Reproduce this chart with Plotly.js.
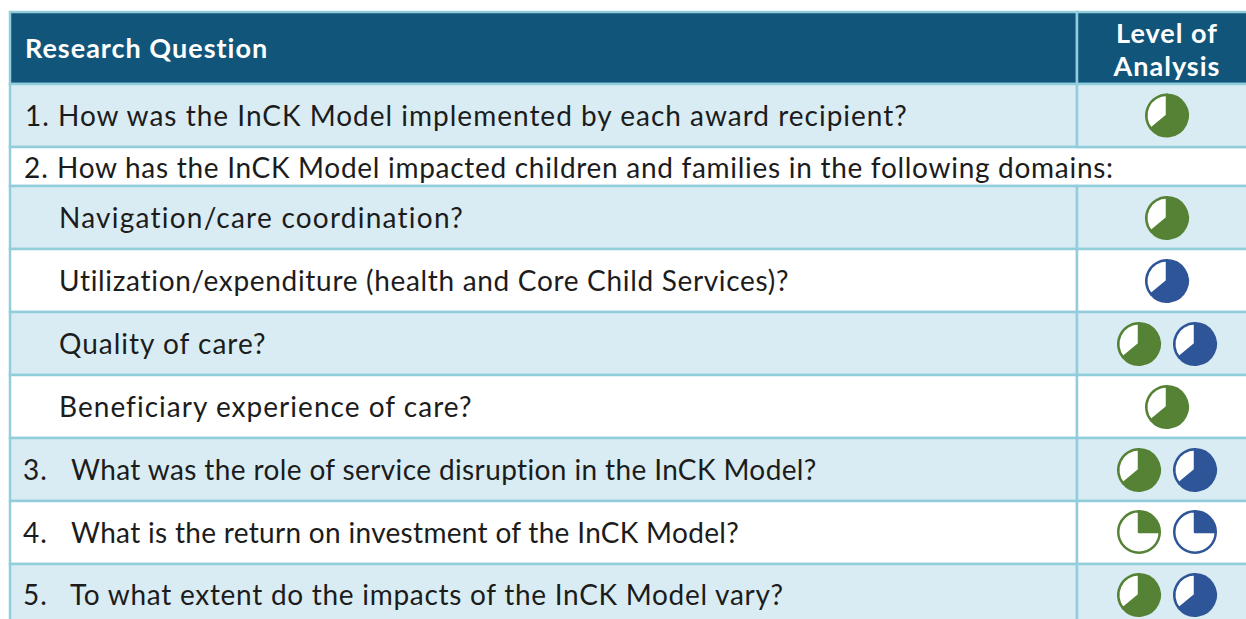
<!DOCTYPE html>
<html><head><meta charset="utf-8">
<script src="https://cdn.plot.ly/plotly-3.0.1.min.js"></script>
<style>html,body{margin:0;padding:0;background:#fff;overflow:hidden}
#chart .textpoint text{letter-spacing:1px}</style>
</head><body><div id="chart" style="width:1246px;height:619px"></div>
<script>
const rowEdges = [12,84,147,186,249,312,375,438,501,564,640];
const rowFills = ['#11567A','#D9ECF3','#FFFFFF','#D9ECF3','#FFFFFF','#D9ECF3','#FFFFFF','#D9ECF3','#FFFFFF','#D9ECF3'];
const columnEdges = [10,1077,1260];
const spanningRow = 2;
const numbers = ['1.','2.','3.','4.','5.'];
const numberX = [25,24,23,23,23];
const numberY = [119,171,473,536,598];
const questions = [
 'How was the InCK Model implemented by each award recipient?',
 'How has the InCK Model impacted children and families in the following domains:',
 'Navigation/care coordination?',
 'Utilization/expenditure (health and Core Child Services)?',
 'Quality of care?',
 'Beneficiary experience of care?',
 'What was the role of service disruption in the InCK Model?',
 'What is the return on investment of the InCK Model?',
 'To what extent do the impacts of the InCK Model vary?'
];
const questionX = [58,57,59,59,59,59,71,71,70];
const questionY = [119,171,221,284,347,410,473,536,598];
const questionTracking = [1,0.71,1.24,0.68,1,1.03,0.38,0.31,0.72];
const headerLabels = ['<b>Research Question</b>','<b>Level of</b>','<b>Analysis</b>'];
const headerX = [25,1167,1167];
const headerY = [51,36,69];
const ballCx = [1167,1167,1167,1139,1195,1167,1139,1195,1139,1195,1139,1195];
const ballCy = [115.5,218,281,344,344,407,470,470,532,532,595,595];
const ballColor = ['g','g','b','g','b','g','g','b','g','b','g','b'];
const ballShare = [64,64,64,64,64,64,64,64,25,25,64,64];
const palette = {g:'#558235', b:'#2E5597'};
const ballDiameter = 41.5;
const W = 1246, H = 619;

const centers = rowFills.map((_,i)=>(rowEdges[i]+rowEdges[i+1])/2);
const heights = rowFills.map((_,i)=>rowEdges[i+1]-rowEdges[i]);
const lineStyle = {color:'#92CDDC', width:2.5};
const bodyFont = {family:'Lato, sans-serif', size:28, color:'#1c1c1c'};
const headFont = {family:'Lato, sans-serif', size:27, color:'#fff'};

const traces = [
 {type:'bar', orientation:'h', y:centers, width:heights,
  base:columnEdges[0], x:rowFills.map((_,i)=>(i===spanningRow?columnEdges[2]:columnEdges[1])-columnEdges[0]),
  marker:{color:rowFills, line:lineStyle}, hoverinfo:'skip', showlegend:false},
 {type:'bar', orientation:'h', y:centers.filter((_,i)=>i!==spanningRow), width:heights.filter((_,i)=>i!==spanningRow),
  base:columnEdges[1], x:rowFills.filter((_,i)=>i!==spanningRow).map(()=>columnEdges[2]-columnEdges[1]),
  marker:{color:rowFills.filter((_,i)=>i!==spanningRow), line:lineStyle}, hoverinfo:'skip', showlegend:false},
 {type:'scatter', mode:'text', x:numberX, y:numberY, text:numbers, textposition:'middle right',
  textfont:bodyFont, hoverinfo:'skip', showlegend:false},
 {type:'scatter', mode:'text', x:questionX, y:questionY, text:questions, textposition:'middle right',
  textfont:bodyFont, hoverinfo:'skip', showlegend:false},
 {type:'scatter', mode:'text', x:[headerX[0]], y:[headerY[0]], text:[headerLabels[0]], textposition:'middle right',
  textfont:headFont, hoverinfo:'skip', showlegend:false},
 {type:'scatter', mode:'text', x:headerX.slice(1), y:headerY.slice(1), text:headerLabels.slice(1), textposition:'middle center',
  textfont:headFont, hoverinfo:'skip', showlegend:false}
];
ballCx.forEach((cx,i)=>{
  const c = palette[ballColor[i]];
  traces.push({type:'pie', values:[ballShare[i],100-ballShare[i]], sort:false, direction:'clockwise', rotation:0,
    marker:{colors:[c,'#FFFFFF'], line:{color:c,width:2.5}}, textinfo:'none', hoverinfo:'skip', showlegend:false,
    domain:{x:[(cx-ballDiameter/2)/W,(cx+ballDiameter/2)/W], y:[1-(ballCy[i]+ballDiameter/2)/H,1-(ballCy[i]-ballDiameter/2)/H]}});
});
Plotly.newPlot('chart', traces, {
  width:W, height:H, margin:{l:0,r:0,t:0,b:0}, paper_bgcolor:'#fff', plot_bgcolor:'#fff',
  barmode:'overlay', showlegend:false, bargap:0,
  xaxis:{range:[0,W], visible:false, fixedrange:true},
  yaxis:{range:[H,0], visible:false, fixedrange:true}
}, {displayModeBar:false, staticPlot:true}).then(gd=>{
  gd.querySelectorAll('.textpoint text').forEach(t=>{
    const i = questions.indexOf(t.textContent);
    if(i>=0) t.style.letterSpacing = questionTracking[i]+'px';
  });
});
</script></body></html>
